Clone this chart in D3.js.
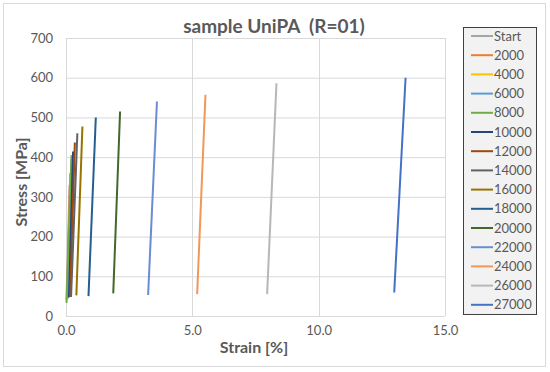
<!DOCTYPE html>
<html><head><meta charset="utf-8">
<script src="https://cdn.jsdelivr.net/npm/d3@7/dist/d3.min.js"></script>
<style>body{margin:0;background:#fff}svg{display:block}text{font-family:Lato,"Open Sans",sans-serif;white-space:pre}</style>
</head><body><svg id="c" width="550" height="372"></svg>
<script>
const seriesNames = ["Start","2000","4000","6000","8000","10000","12000","14000","16000","18000","20000","22000","24000","26000","27000"];
const seriesColors = ["#A5A5A5","#ED7D31","#FFC000","#5B9BD5","#70AD47","#264478","#9E480E","#636363","#997300","#255E91","#43682B","#698ED0","#F1975A","#B7B7B7","#4472C4"];
const strainStart = [0.02,0.04,0.06,0.08,0.02,0.12,0.16,0.2,0.41,0.89,1.87,3.25,5.19,7.96,12.99];
const stressStart = [40,42,44,45,33,47,48,48,52,50,57,53,55,55,59];
const strainEnd   = [0.14,0.17,0.2,0.22,0.22,0.28,0.35,0.45,0.65,1.18,2.14,3.6,5.52,8.33,13.44];
const stressEnd   = [330,360,380,395,405,414,437,460,477,500,515,540,557,586,600];
const xTicks = [0,5,10,15];
const yTicks = [0,100,200,300,400,500,600,700];

const svg = d3.select("#c");
const txt = "#595959";
svg.append("rect").attr("x",3.5).attr("y",3.5).attr("width",542).attr("height",363).attr("fill","#fff").attr("stroke","#d9d9d9");

const x = d3.scaleLinear().domain([0,15]).range([66,445]);
const y = d3.scaleLinear().domain([0,700]).range([316,38]);

const g = svg.append("g");
g.selectAll("line.h").data(yTicks).join("line").attr("x1",x(0)).attr("x2",x(15))
  .attr("y1",d=>y(d)+0.5).attr("y2",d=>y(d)+0.5).attr("stroke","#d9d9d9");
g.selectAll("line.v").data(xTicks).join("line").attr("y1",y(0)).attr("y2",y(700))
  .attr("x1",d=>Math.round(x(d))+0.5).attr("x2",d=>Math.round(x(d))+0.5).attr("stroke","#d9d9d9");

const yAxis = svg.append("g").attr("transform",`translate(${x(0)},0)`)
  .call(d3.axisLeft(y).tickValues(yTicks).tickSize(0).tickPadding(13));
const xAxis = svg.append("g").attr("transform",`translate(0,${y(0)})`)
  .call(d3.axisBottom(x).tickValues(xTicks).tickSize(0).tickPadding(10).tickFormat(d3.format(".1f")));
[yAxis,xAxis].forEach(a=>{a.select(".domain").remove();a.selectAll("text").attr("fill",txt).style("font-size","13px").style("font-family","Lato,sans-serif");});

const data = seriesNames.map((n,i)=>({name:n,color:seriesColors[i],pts:[[strainStart[i],stressStart[i]],[strainEnd[i],stressEnd[i]]]}));
const line = d3.line().x(d=>x(d[0])).y(d=>y(d[1]));
svg.append("g").selectAll("path").data(data).join("path")
  .attr("d",d=>line(d.pts)).attr("fill","none").attr("stroke",d=>d.color).attr("stroke-width",2);

svg.append("text").attr("x",274).attr("y",33).attr("text-anchor","middle").attr("fill",txt)
  .style("font-size","19px").style("font-weight","bold").text("sample UniPA  (R=01)");
svg.append("text").attr("x",254).attr("y",353).attr("text-anchor","middle").attr("fill",txt)
  .style("font-size","16px").style("font-weight","bold").text("Strain [%]");
svg.append("text").attr("transform","translate(27,182) rotate(-90)").attr("text-anchor","middle").attr("fill",txt)
  .style("font-size","16px").style("font-weight","bold").text("Stress [MPa]");

const lg = svg.append("g");
lg.append("rect").attr("x",463.5).attr("y",27.5).attr("width",73).attr("height",287).attr("fill","#f2f2f2").attr("stroke","#404040");
const it = lg.selectAll("g").data(data).join("g").attr("transform",(d,i)=>`translate(0,${36+i*19.2})`);
it.append("line").attr("x1",471).attr("x2",493).attr("stroke",d=>d.color).attr("stroke-width",2);
it.append("text").attr("x",494).attr("y",4.5).attr("fill",txt).style("font-size","13px").text(d=>d.name);
</script></body></html>
